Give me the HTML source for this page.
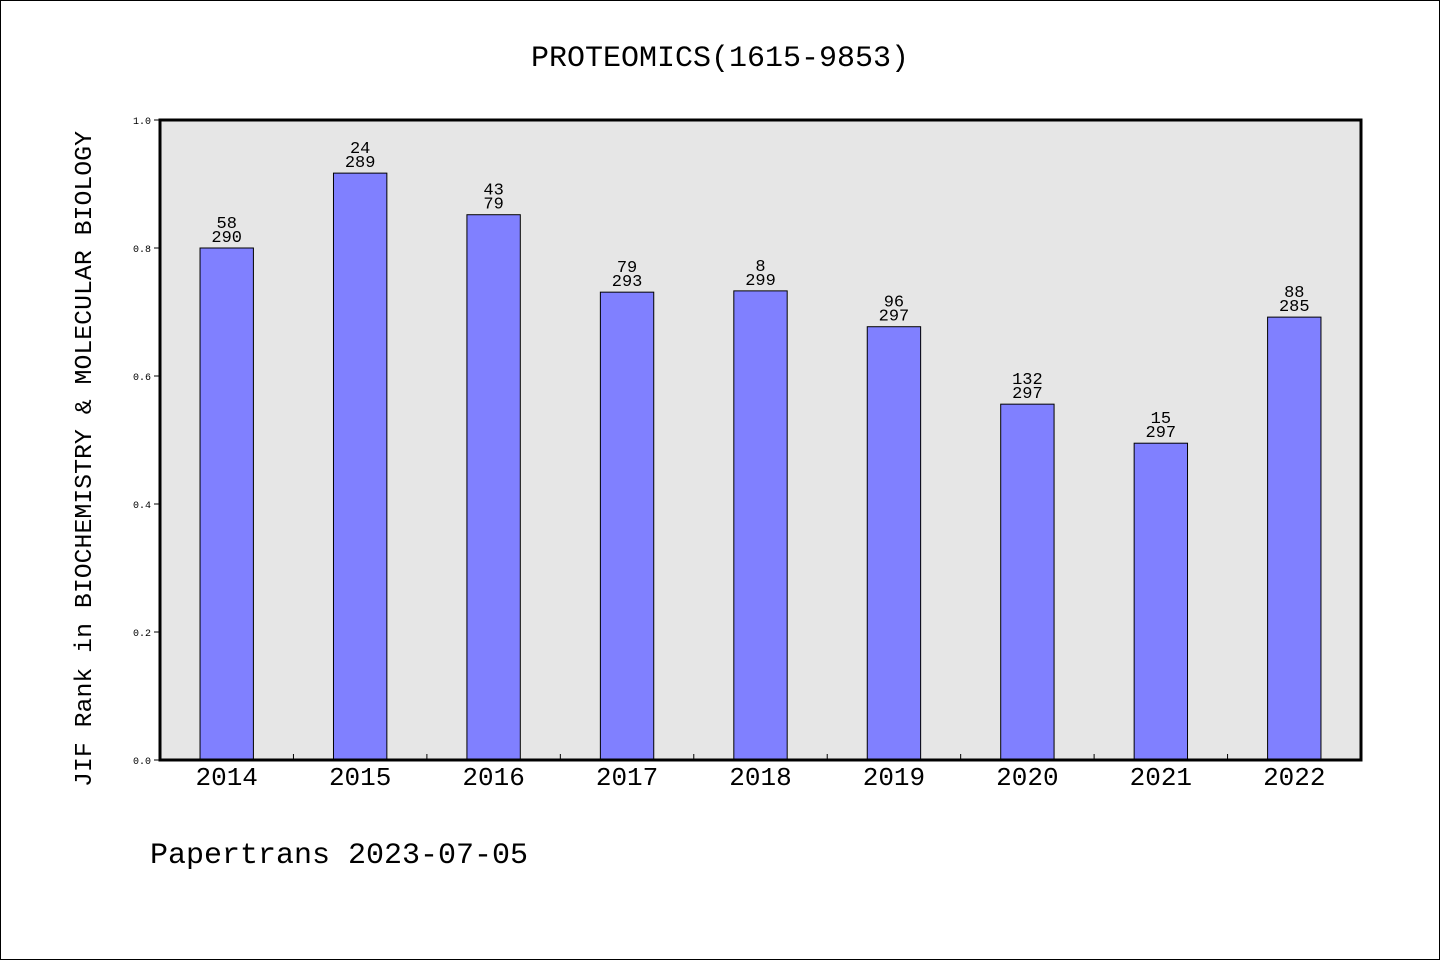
<!DOCTYPE html>
<html><head><meta charset="utf-8"><style>
html,body{margin:0;padding:0;background:#fff}
svg{display:block}
text{font-family:"WenQuanYi Zen Hei Mono","Liberation Mono",monospace;fill:#000}
</style></head><body>
<svg id="chart" width="1440" height="960" xmlns="http://www.w3.org/2000/svg">
<rect x="0.5" y="0.5" width="1439" height="959" fill="#fff" stroke="#000"/>
<text x="720" y="66" font-size="30" text-anchor="middle">PROTEOMICS(1615-9853)</text>
<rect x="160" y="120" width="1201" height="640" fill="#e6e6e6"/>
<g id="bars"></g>
<g id="ticks"></g>
<rect x="160" y="120" width="1201" height="640" fill="none" stroke="#000" stroke-width="3"/>
<text transform="translate(91,459) rotate(-90)" font-size="24" textLength="656" lengthAdjust="spacingAndGlyphs" text-anchor="middle">JIF Rank in BIOCHEMISTRY &amp; MOLECULAR BIOLOGY</text>
<text x="150" y="863" font-size="30">Papertrans 2023-07-05</text>
</svg>
<script>
const categories=["2014","2015","2016","2017","2018","2019","2020","2021","2022"];
const values=[0.800,0.917,0.852,0.731,0.733,0.677,0.556,0.495,0.692];
const ranks=["58","24","43","79","8","96","132","15","88"];
const totals=["290","289","79","293","299","297","297","297","285"];
const yTicks=[0,0.2,0.4,0.6,0.8,1.0];
const NS="http://www.w3.org/2000/svg";
const X0=160,X1=1361,Y0=760,Y1=120;
const band=(X1-X0)/categories.length;
const xs=i=>X0+band*(i+0.5);
const ys=v=>Y0-(Y0-Y1)*v;
function mk(t,a,p){const e=document.createElementNS(NS,t);for(const k in a)e.setAttribute(k,a[k]);p.appendChild(e);return e;}
const gb=document.getElementById('bars'),gt=document.getElementById('ticks');
const bw=band*0.4;
categories.forEach((c,i)=>{
  const r=mk('rect',{x:xs(i)-bw/2,y:ys(values[i]),width:bw,height:Y0-ys(values[i]),fill:'#8080ff',stroke:'#000','stroke-width':1},gb);
  
  
  const t1=mk('text',{x:xs(i),y:ys(values[i])-20,'font-size':17,'text-anchor':'middle'},gb);t1.textContent=ranks[i];
  
  
  const t2=mk('text',{x:xs(i),y:ys(values[i])-6,'font-size':17,'text-anchor':'middle'},gb);t2.textContent=totals[i];
  
  
  const xl=mk('text',{x:xs(i),y:785,'font-size':26,'text-anchor':'middle'},gt);xl.textContent=c;
  
  
  if(i>0){const tk=mk('line',{x1:X0+band*i,x2:X0+band*i,y1:Y0,y2:Y0-6,stroke:'#000','stroke-width':1},gt);
  
  }
});
yTicks.forEach(v=>{
  const tk=mk('line',{x1:X0,x2:X0-6,y1:ys(v),y2:ys(v),stroke:'#000','stroke-width':1},gt);
  
  
  const l=mk('text',{x:151,y:ys(v)+4,'font-size':10,'text-anchor':'end','font-family':'Liberation Sans, sans-serif'},gt);
  l.textContent=v.toFixed(1);
  
  
});
</script>
</body></html>
